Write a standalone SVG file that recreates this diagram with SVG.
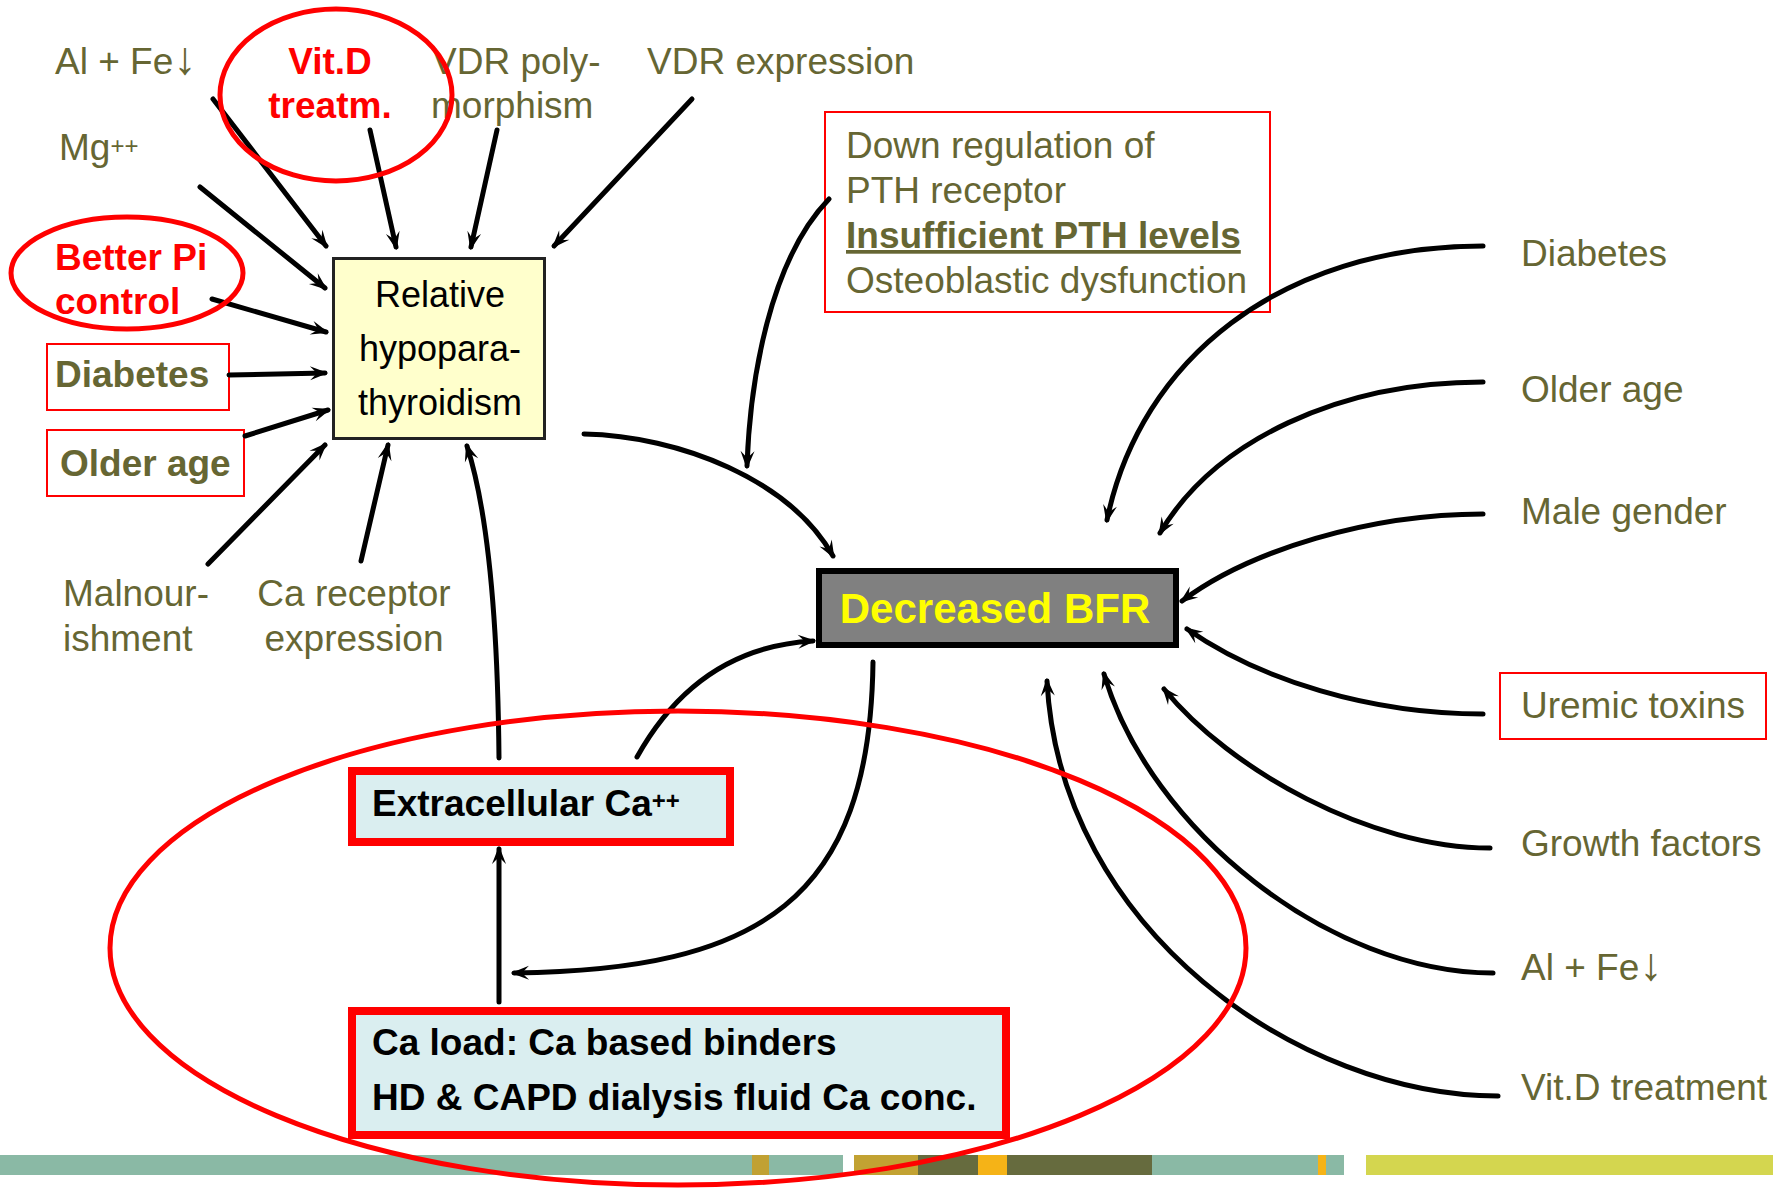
<svg xmlns="http://www.w3.org/2000/svg" width="1773" height="1188" viewBox="0 0 1773 1188">
<style>
text{font-family:"Liberation Sans",Arial,sans-serif;font-size:37px}
.ol{fill:#666633}
.olb{fill:#666633;font-weight:bold}
.red{fill:#FF0000;font-weight:bold}
.blk{fill:#000}
.bb{fill:#000;font-weight:bold}
.rbox{fill:#fff;stroke:#FF0000;stroke-width:2}
.cbox{fill:#DAEEF0;stroke:#FF0000;stroke-width:8}
.hl{fill:none;stroke:#FF0000;stroke-width:5}
.c{fill:none;stroke:#000;stroke-width:5;stroke-linecap:round;marker-end:url(#ah)}
.arw{font-size:46px}
</style>
<defs>
<marker id="ah" markerUnits="userSpaceOnUse" markerWidth="30" markerHeight="20" refX="0" refY="0" orient="auto" overflow="visible">
<path d="M3,0 L-15,-7 L-8,0 L-15,7 Z" fill="#000"/>
</marker>
</defs>
<rect width="1773" height="1188" fill="#fff"/>
<g id="bar">
<rect x="0" y="1155" width="752" height="20" fill="#8AB9A5"/>
<rect x="752" y="1155" width="17" height="20" fill="#C1A133"/>
<rect x="769" y="1155" width="74" height="20" fill="#8AB9A5"/>
<rect x="854" y="1155" width="64" height="20" fill="#C2A232"/>
<rect x="918" y="1155" width="60" height="20" fill="#666B3E"/>
<rect x="978" y="1155" width="29" height="20" fill="#F5B317"/>
<rect x="1007" y="1155" width="145" height="20" fill="#666B3E"/>
<rect x="1152" y="1155" width="166" height="20" fill="#8AB9A5"/>
<rect x="1318" y="1155" width="8" height="20" fill="#F5B317"/>
<rect x="1326" y="1155" width="18" height="20" fill="#8AB9A5"/>
<rect x="1366" y="1155" width="407" height="20" fill="#D4D64F"/>
</g>
<g id="n-alfe-l"><text class="ol" x="55" y="74">Al + Fe<tspan class="arw">↓</tspan></text></g>
<g id="n-vitd-l"><text class="red" x="330" y="74" text-anchor="middle">Vit.D</text><text class="red" x="330" y="118" text-anchor="middle">treatm.</text></g>
<g id="n-vdrpoly"><text class="ol" x="432" y="74">VDR poly-</text><text class="ol" x="431" y="118">morphism</text></g>
<g id="n-vdrexp"><text class="ol" x="647" y="74">VDR expression</text></g>
<g id="n-mg"><text class="ol" x="59" y="160">Mg<tspan font-size="24" dy="-6">++</tspan></text></g>
<g id="n-pi"><text class="red" x="55" y="270">Better Pi</text><text class="red" x="55" y="314">control</text></g>
<g id="n-diab-l"><rect class="rbox" x="47" y="344" width="182" height="66"/><text class="olb" x="55" y="387">Diabetes</text></g>
<g id="n-age-l"><rect class="rbox" x="47" y="430" width="197" height="66"/><text class="olb" x="60" y="476">Older age</text></g>
<g id="n-maln"><text class="ol" x="63" y="606">Malnour-</text><text class="ol" x="63" y="651">ishment</text></g>
<g id="n-carec"><text class="ol" x="354" y="606" text-anchor="middle">Ca receptor</text><text class="ol" x="354" y="651" text-anchor="middle">expression</text></g>
<g id="n-hypo"><rect x="333.5" y="258.5" width="211" height="180" fill="#FFFFCC" stroke="#222" stroke-width="3"/>
<text class="blk" x="440" y="307" text-anchor="middle" style="font-size:36px">Relative</text>
<text class="blk" x="440" y="361" text-anchor="middle" style="font-size:36px">hypopara-</text>
<text class="blk" x="440" y="415" text-anchor="middle" style="font-size:36px">thyroidism</text></g>
<g id="n-pth"><rect class="rbox" x="825" y="112" width="445" height="200"/>
<text class="ol" x="846" y="158">Down regulation of</text>
<text class="ol" x="846" y="203">PTH receptor</text>
<text class="olb" x="846" y="248" text-decoration="underline">Insufficient PTH levels</text>
<text class="ol" x="846" y="293">Osteoblastic dysfunction</text></g>
<g id="n-bfr"><rect x="819" y="571" width="357" height="74" fill="#808080" stroke="#000" stroke-width="6"/>
<text x="995" y="623" text-anchor="middle" style="font-size:42px;font-weight:bold;fill:#FFFF00">Decreased BFR</text></g>
<g id="n-diab-r"><text class="ol" x="1521" y="266">Diabetes</text></g>
<g id="n-age-r"><text class="ol" x="1521" y="402">Older age</text></g>
<g id="n-male"><text class="ol" x="1521" y="524">Male gender</text></g>
<g id="n-urem"><rect class="rbox" x="1500" y="673" width="266" height="66"/><text class="ol" x="1521" y="718">Uremic toxins</text></g>
<g id="n-growth"><text class="ol" x="1521" y="856">Growth factors</text></g>
<g id="n-alfe-r"><text class="ol" x="1521" y="980">Al + Fe<tspan class="arw">↓</tspan></text></g>
<g id="n-vitd-r"><text class="ol" x="1521" y="1100">Vit.D treatment</text></g>
<g id="n-extra"><rect class="cbox" x="352" y="771" width="378" height="71"/><text class="bb" x="372" y="816">Extracellular Ca<tspan font-size="24" dy="-7">++</tspan></text></g>
<g id="n-caload"><rect class="cbox" x="352" y="1011" width="654" height="124"/>
<text class="bb" x="372" y="1055">Ca load: Ca based binders</text>
<text class="bb" x="372" y="1110">HD &amp; CAPD dialysis fluid Ca conc.</text></g>
<g id="connectors">
<path class="c" d="M213,99 L326,246"/>
<path class="c" d="M200,187 L325,288"/>
<path class="c" d="M370,130 L396,247"/>
<path class="c" d="M497,130 L471,247"/>
<path class="c" d="M692,99 L554,246"/>
<path class="c" d="M212,299 L326,332"/>
<path class="c" d="M229,375 L325,373"/>
<path class="c" d="M245,436 L328,410"/>
<path class="c" d="M208,564 L325,445"/>
<path class="c" d="M361,561 L388,445"/>
<path class="c" d="M499,758 Q497,540 467,446"/>
<path class="c" d="M584,434 C680,436 790,480 833,556"/>
<path class="c" d="M829,199 C770,260 750,380 747,466"/>
<path class="c" d="M637,757 C680,680 740,645 813,641"/>
<path class="c" d="M873,662 C870,900 760,970 514,973"/>
<path class="c" d="M499,1002 L499,849"/>
<path class="c" d="M1483,246 C1280,246 1140,360 1107,520"/>
<path class="c" d="M1483,382 C1340,382 1215,440 1160,533"/>
<path class="c" d="M1483,514 C1370,514 1250,550 1182,601"/>
<path class="c" d="M1483,714 C1370,714 1260,680 1187,629"/>
<path class="c" d="M1490,848 C1370,848 1230,770 1164,689"/>
<path class="c" d="M1493,973 C1330,973 1150,830 1104,674"/>
<path class="c" d="M1498,1096 C1300,1096 1060,930 1047,681"/>
</g>
<g id="highlights">
<ellipse class="hl" cx="336" cy="95" rx="116" ry="86"/>
<ellipse class="hl" cx="127" cy="273" rx="116" ry="56"/>
<ellipse class="hl" cx="678" cy="948" rx="568" ry="237"/>
</g>
</svg>
